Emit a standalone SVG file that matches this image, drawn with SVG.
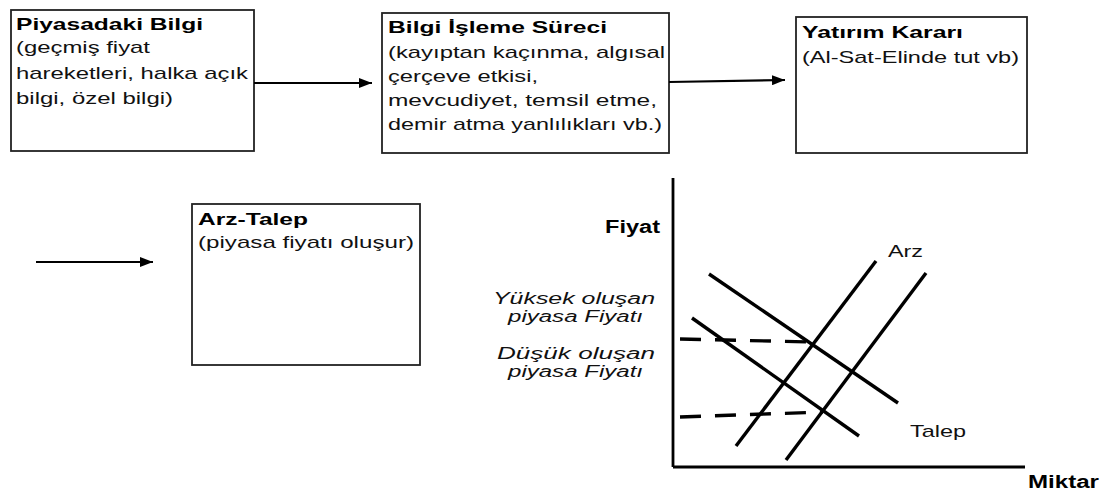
<svg xmlns="http://www.w3.org/2000/svg" width="1108" height="494" viewBox="0 0 1108 494">
<style>
.box{fill:#fff;stroke:#222;stroke-width:1.8}
.t{font-family:"Liberation Sans",Arial,sans-serif;font-size:17px;fill:#111}
.b{font-weight:bold;fill:#000}
.i{font-style:italic;font-size:16px}
.conn{stroke:#000;stroke-width:2.2;fill:none}
.curve{stroke:#000;stroke-width:3.4;fill:none}
.dash{stroke:#000;stroke-width:3.4;fill:none;stroke-dasharray:21 14}
.axis{stroke:#000;stroke-width:2.8;fill:none}
</style>
<defs>
<marker id="arr" markerUnits="userSpaceOnUse" markerWidth="13" markerHeight="10" refX="13" refY="5" orient="auto">
<path d="M0,0 L13,5 L0,10 z" fill="#000"/>
</marker>
</defs>
<rect width="1108" height="494" fill="#fff"/>

<g id="node-piyasadaki-bilgi">
<rect class="box" x="11" y="10" width="243" height="141"/>
<text class="t b" x="16" y="30" textLength="187" lengthAdjust="spacingAndGlyphs">Piyasadaki Bilgi</text>
<text class="t" x="16" y="53" textLength="134" lengthAdjust="spacingAndGlyphs">(geçmiş fiyat</text>
<text class="t" x="16" y="79" textLength="232" lengthAdjust="spacingAndGlyphs">hareketleri, halka açık</text>
<text class="t" x="16" y="104" textLength="157" lengthAdjust="spacingAndGlyphs">bilgi, özel bilgi)</text>
</g>

<g id="node-bilgi-isleme">
<rect class="box" x="382" y="13" width="287" height="140"/>
<text class="t b" x="388" y="33" textLength="219" lengthAdjust="spacingAndGlyphs">Bilgi İşleme Süreci</text>
<text class="t" x="388" y="58" textLength="277" lengthAdjust="spacingAndGlyphs">(kayıptan kaçınma, algısal</text>
<text class="t" x="388" y="82" textLength="150" lengthAdjust="spacingAndGlyphs">çerçeve etkisi,</text>
<text class="t" x="388" y="106" textLength="269" lengthAdjust="spacingAndGlyphs">mevcudiyet, temsil etme,</text>
<text class="t" x="388" y="130" textLength="274" lengthAdjust="spacingAndGlyphs">demir atma yanlılıkları vb.)</text>
</g>

<g id="node-yatirim-karari">
<rect class="box" x="796" y="17" width="231" height="136"/>
<text class="t b" x="802" y="38" textLength="161" lengthAdjust="spacingAndGlyphs">Yatırım Kararı</text>
<text class="t" x="802" y="63" textLength="217" lengthAdjust="spacingAndGlyphs">(Al-Sat-Elinde tut vb)</text>
</g>

<g id="node-arz-talep">
<rect class="box" x="192" y="204" width="228" height="161"/>
<text class="t b" x="198" y="225" textLength="110" lengthAdjust="spacingAndGlyphs">Arz-Talep</text>
<text class="t" x="198" y="248" textLength="216" lengthAdjust="spacingAndGlyphs">(piyasa fiyatı oluşur)</text>
</g>

<g id="connectors">
<line class="conn" x1="254" y1="83" x2="372" y2="83" marker-end="url(#arr)"/>
<line class="conn" x1="669" y1="82" x2="785" y2="80" marker-end="url(#arr)"/>
<line class="conn" x1="36" y1="262" x2="153" y2="262" marker-end="url(#arr)"/>
</g>

<g id="chart">
<line class="axis" x1="673" y1="178" x2="673" y2="467"/>
<line class="axis" x1="673" y1="467" x2="1025" y2="467"/>
<line class="curve" x1="709" y1="274" x2="898" y2="403"/>
<line class="curve" x1="692" y1="318" x2="859" y2="436"/>
<line class="curve" x1="736" y1="446" x2="876" y2="261"/>
<line class="curve" x1="786" y1="460" x2="926" y2="273"/>
<line class="dash" x1="680" y1="339" x2="812" y2="342"/>
<line class="dash" x1="680" y1="417" x2="823" y2="412"/>
<text class="t b" x="605" y="233" style="font-size:18px" textLength="55" lengthAdjust="spacingAndGlyphs">Fiyat</text>
<text class="t i" x="493" y="304" textLength="162" lengthAdjust="spacingAndGlyphs">Yüksek oluşan</text>
<text class="t i" x="508" y="322" textLength="135" lengthAdjust="spacingAndGlyphs">piyasa Fiyatı</text>
<text class="t i" x="497" y="359" textLength="158" lengthAdjust="spacingAndGlyphs">Düşük oluşan</text>
<text class="t i" x="508" y="377" textLength="135" lengthAdjust="spacingAndGlyphs">piyasa Fiyatı</text>
<text class="t" x="888" y="257" textLength="35" lengthAdjust="spacingAndGlyphs">Arz</text>
<text class="t" x="910" y="437" textLength="56" lengthAdjust="spacingAndGlyphs">Talep</text>
<text class="t b" x="1028" y="488" style="font-size:18px" textLength="71" lengthAdjust="spacingAndGlyphs">Miktar</text>
</g>
</svg>
